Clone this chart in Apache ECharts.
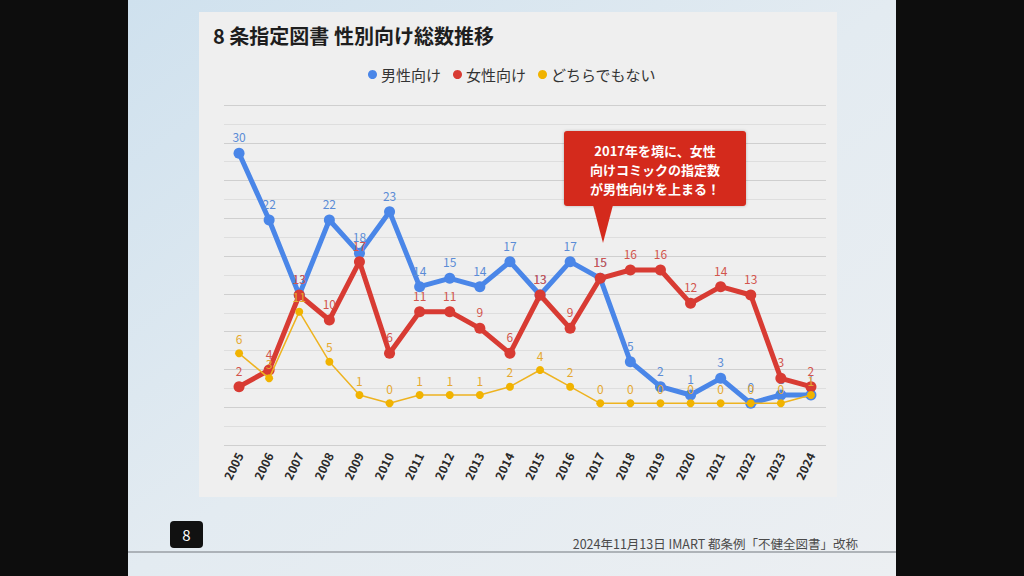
<!DOCTYPE html>
<html>
<head>
<meta charset="utf-8">
<script src="https://cdn.jsdelivr.net/npm/echarts@6/dist/echarts.min.js"></script>
<style>
html,body{margin:0;padding:0;background:#0d0d0d;}
#c{width:1024px;height:576px;}
</style>
</head>
<body>
<div id="c"></div>
<script>
const years = ['2005','2006','2007','2008','2009','2010','2011','2012','2013','2014','2015','2016','2017','2018','2019','2020','2021','2022','2023','2024'];
const maleValues = [30,22,13,22,18,23,14,15,14,17,13,17,15,5,2,1,3,0,1,1];
const femaleValues = [2,4,13,10,17,6,11,11,9,6,13,9,15,16,16,12,14,13,3,2];
const neitherValues = [6,3,11,5,1,0,1,1,1,2,4,2,0,0,0,0,0,0,0,1];
const seriesNames = ['男性向け','女性向け','どちらでもない'];
const titleText = '8 条指定図書 性別向け総数推移';
const calloutLines = ['2017年を境に、女性','向けコミックの指定数','が男性向けを上まる！'];
const footerText = '2024年11月13日 IMART 都条例「不健全図書」改称';
const pageNo = '8';

const FONT = '"Noto Sans CJK JP","Noto Sans",sans-serif';
const chart = echarts.init(document.getElementById('c'), null, {renderer:'svg'});

const option = {
  animation:false,
  backgroundColor:'#0d0d0d',
  textStyle:{fontFamily:FONT},
  graphic:[
    {type:'rect', z:-10, shape:{x:128,y:0,width:768,height:576},
     style:{fill:new echarts.graphic.LinearGradient(0,0,1,1,[
       {offset:0,color:'#cfe1ee'},{offset:0.5,color:'#e3ebf1'},{offset:1,color:'#eceff2'}])}},
    {type:'rect', z:-9, shape:{x:199,y:12,width:638,height:485},
     style:{fill:'#efefef'}},
    {type:'line', z:-9, shape:{x1:128,y1:552,x2:896,y2:552},
     style:{stroke:'#9a9fa4',lineWidth:1.5}},
    {type:'rect', z:5, shape:{x:170,y:521,width:33,height:27,r:4},
     style:{fill:'#111111'}},
    {type:'text', z:6, x:186.5, y:534.5,
     style:{text:pageNo,fill:'#ffffff',font:'15px '+FONT,align:'center',verticalAlign:'middle'}},
    {type:'text', z:6, x:858, y:543,
     style:{text:footerText,fill:'#4a4a4a',font:'12.5px '+FONT,align:'right',verticalAlign:'middle'}},
    {type:'rect', z:20, shape:{x:564,y:131,width:182,height:75,r:3},
     style:{fill:'#d42a1c',shadowBlur:3,shadowColor:'rgba(0,0,0,0.25)'}},
    {type:'polygon', z:20, shape:{points:[[593,205],[613,205],[603,243]]},
     style:{fill:'#d42a1c'}},
    {type:'text', z:21, x:655, y:150,
     style:{text:calloutLines[0],fill:'#ffffff',font:'bold 13px '+FONT,align:'center',verticalAlign:'middle'}},
    {type:'text', z:21, x:655, y:169,
     style:{text:calloutLines[1],fill:'#ffffff',font:'bold 13px '+FONT,align:'center',verticalAlign:'middle'}},
    {type:'text', z:21, x:655, y:188,
     style:{text:calloutLines[2],fill:'#ffffff',font:'bold 13px '+FONT,align:'center',verticalAlign:'middle'}}
  ],
  title:{
    text:titleText, left:208, top:20,
    textStyle:{fontSize:20,fontWeight:'bold',color:'#1e1e1e',fontFamily:FONT}
  },
  legend:{
    top:62, left:'center', itemWidth:9, itemHeight:9, itemGap:12, icon:'circle',
    data:seriesNames,
    textStyle:{fontSize:15,color:'#333333',fontFamily:FONT,padding:[0,0,0,-1]}
  },
  grid:{left:224,right:198,top:105,bottom:131,containLabel:false},
  xAxis:{
    type:'category', data:years, boundaryGap:true,
    axisLine:{show:false}, axisTick:{show:false},
    axisLabel:{rotate:64, fontSize:12, fontWeight:'bold', color:'#2a2a2a', margin:8, interval:0, fontFamily:FONT}
  },
  yAxis:[
    {type:'value', min:-5, max:35.8, show:false, splitLine:{show:false}},
    {type:'value', min:0, max:18, interval:1,
     axisLine:{show:false}, axisTick:{show:false}, axisLabel:{show:false},
     splitLine:{show:true, lineStyle:{color:['#cfcfcf','#dedede'], width:1}}}
  ],
  series:[
    {name:seriesNames[0], type:'line', yAxisIndex:0, data:maleValues, z:3,
     color:'#4a86e8', symbol:'circle', symbolSize:11,
     lineStyle:{width:5,color:'#4a86e8'}, itemStyle:{color:'#4a86e8'},
     label:{show:true,position:'top',fontSize:12,color:'#5b8cd6',fontFamily:FONT}},
    {name:seriesNames[1], type:'line', yAxisIndex:0, data:femaleValues, z:4,
     color:'#d83b33', symbol:'circle', symbolSize:11,
     lineStyle:{width:5,color:'#d83b33'}, itemStyle:{color:'#d83b33'},
     label:{show:true,position:'top',fontSize:12,color:'#d2554d',fontFamily:FONT}},
    {name:seriesNames[2], type:'line', yAxisIndex:0, data:neitherValues, z:5,
     color:'#f1b300', symbol:'circle', symbolSize:8,
     lineStyle:{width:1.5,color:'#eeb320'}, itemStyle:{color:'#f1b300'},
     label:{show:true,position:'top',fontSize:12,color:'#e5a930',fontFamily:FONT}}
  ]
};
chart.setOption(option);
</script>
</body>
</html>
